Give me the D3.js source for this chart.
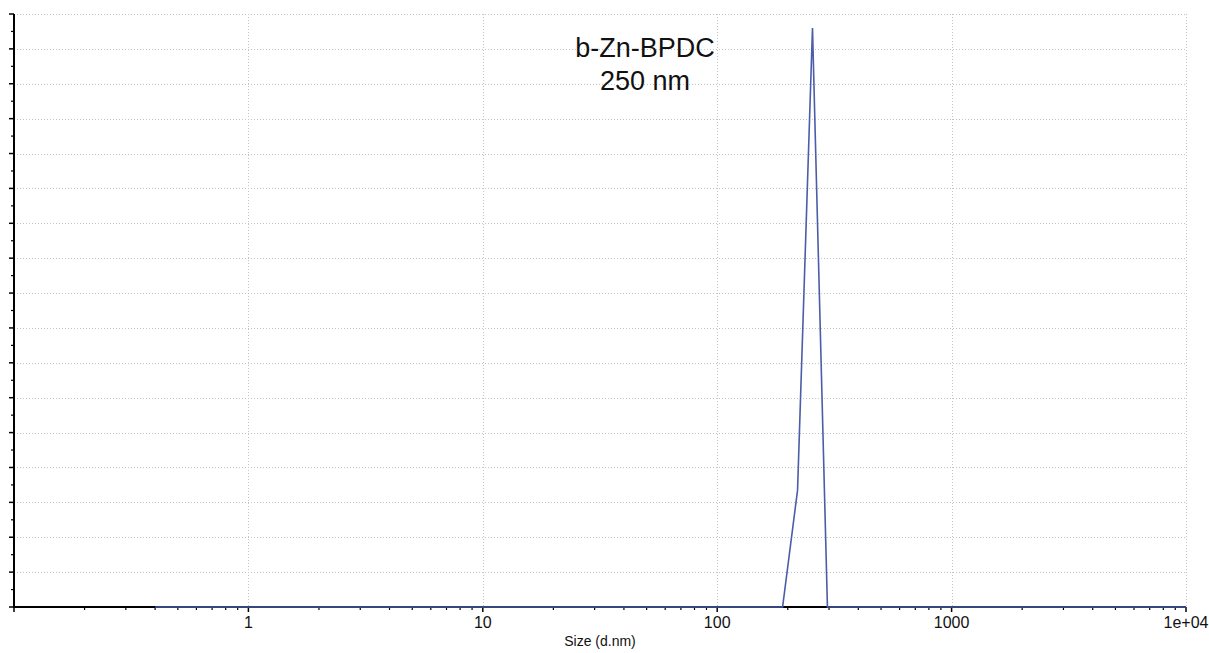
<!DOCTYPE html>
<html>
<head>
<meta charset="utf-8">
<script src="https://cdn.jsdelivr.net/npm/d3@7"></script>
<style>
  body { margin: 0; background: #fff; }
  #vis { width: 1209px; height: 653px; }
  .tick-label { font-family: "Liberation Sans Narrow", "Liberation Sans", Arial, sans-serif; font-size: 16px; fill: #111; }
  .axis-title { font-family: "Liberation Sans", Arial, sans-serif; font-size: 14px; fill: #111; }
  .note { font-family: "Liberation Sans", Arial, sans-serif; font-size: 27px; fill: #111; }
</style>
</head>
<body>
<div id="vis"></div>
<script>
// Size distribution (d.nm)
var sizes = [0.4, 190.1, 220.2, 255.0, 295.3, 10000];
var intensity = [0, 0, 3.35, 16.6, 0, 0];

var xTickValues = [1, 10, 100, 1000, 10000];
var xTickLabels = ["1", "10", "100", "1000", "1e+04"];
var noteLines = ["b-Zn-BPDC", "250 nm"];

var svgWidth = 1209, svgHeight = 653;
// plot box (window.top is taken, hence the names)
var plotLeft = 14, plotRight = 1186, plotTop = 14, plotBottom = 607;

window.addEventListener('load', function () {
  let svg = d3.select("#vis").append("svg")
    .attr("width", svgWidth)
    .attr("height", svgHeight);

  let x = d3.scaleLog().domain([0.1, 10000]).range([plotLeft, plotRight]);
  let y = d3.scaleLinear().domain([0, 17]).range([plotBottom, plotTop]);

  let data = sizes.map((s, i) => ({ size: s, value: intensity[i] }));

  // grid lines
  let grid = svg.append("g")
    .attr("stroke", "#c4c4c4")
    .attr("stroke-width", 1)
    .attr("stroke-dasharray", "1,2");

  grid.selectAll(".hgrid")
    .data(d3.range(1, 18))
    .enter().append("line")
    .attr("x1", plotLeft).attr("x2", plotRight)
    .attr("y1", d => Math.round(y(d)) + 0.5)
    .attr("y2", d => Math.round(y(d)) + 0.5);

  grid.selectAll(".vgrid")
    .data(xTickValues)
    .enter().append("line")
    .attr("y1", plotTop).attr("y2", plotBottom)
    .attr("x1", d => Math.round(x(d)) + 0.5)
    .attr("x2", d => Math.round(x(d)) + 0.5);

  // y axis: no labels, major ticks every unit, minor every half
  let yAxis = svg.append("g").attr("stroke", "#000");
  yAxis.selectAll(".ymajor")
    .data(d3.range(0, 18))
    .enter().append("line")
    .attr("x1", plotLeft - 5).attr("x2", plotLeft)
    .attr("y1", d => y(d)).attr("y2", d => y(d))
    .attr("stroke-width", 1.5);
  yAxis.selectAll(".yminor")
    .data(d3.range(0.5, 17, 1))
    .enter().append("line")
    .attr("x1", plotLeft - 3).attr("x2", plotLeft)
    .attr("y1", d => y(d)).attr("y2", d => y(d))
    .attr("stroke-width", 1.2);
  yAxis.append("line")
    .attr("x1", plotLeft).attr("x2", plotLeft)
    .attr("y1", plotTop).attr("y2", plotBottom + 0.75)
    .attr("stroke-width", 2);

  // x axis with log ticks
  let xAxis = svg.append("g").attr("stroke", "#000");
  let minorTicks = [];
  [0.1, 1, 10, 100, 1000].forEach(function (dec) {
    for (let k = 2; k <= 9; k++) minorTicks.push(dec * k);
  });
  xAxis.selectAll(".xminor")
    .data(minorTicks)
    .enter().append("line")
    .attr("x1", d => x(d)).attr("x2", d => x(d))
    .attr("y1", plotBottom).attr("y2", plotBottom + 3)
    .attr("stroke-width", 1.2);
  xAxis.selectAll(".xmajor")
    .data([0.1].concat(xTickValues))
    .enter().append("line")
    .attr("x1", d => x(d)).attr("x2", d => x(d))
    .attr("y1", plotBottom).attr("y2", plotBottom + 5)
    .attr("stroke-width", 1.5);
  xAxis.append("line")
    .attr("x1", plotLeft).attr("x2", plotRight)
    .attr("y1", plotBottom).attr("y2", plotBottom)
    .attr("stroke-width", 2);

  svg.selectAll(".tick-label")
    .data(xTickValues)
    .enter().append("text")
    .attr("class", "tick-label")
    .attr("x", d => x(d))
    .attr("y", 628)
    .attr("text-anchor", "middle")
    .text((d, i) => xTickLabels[i]);

  svg.append("text")
    .attr("class", "axis-title")
    .attr("x", (plotLeft + plotRight) / 2)
    .attr("y", 646)
    .attr("text-anchor", "middle")
    .text("Size (d.nm)");

  // the distribution line
  let line = d3.line()
    .x(d => x(d.size))
    .y(d => y(d.value));

  svg.append("path")
    .datum(data)
    .attr("d", line)
    .attr("fill", "none")
    .attr("stroke", "#4c5ca8")
    .attr("stroke-width", 1.6)
    .attr("stroke-linejoin", "miter");

  // sample note
  svg.selectAll(".note")
    .data(noteLines)
    .enter().append("text")
    .attr("class", "note")
    .attr("x", 645)
    .attr("y", (d, i) => 57 + i * 33)
    .attr("text-anchor", "middle")
    .text(d => d);
});
</script>
</body>
</html>
